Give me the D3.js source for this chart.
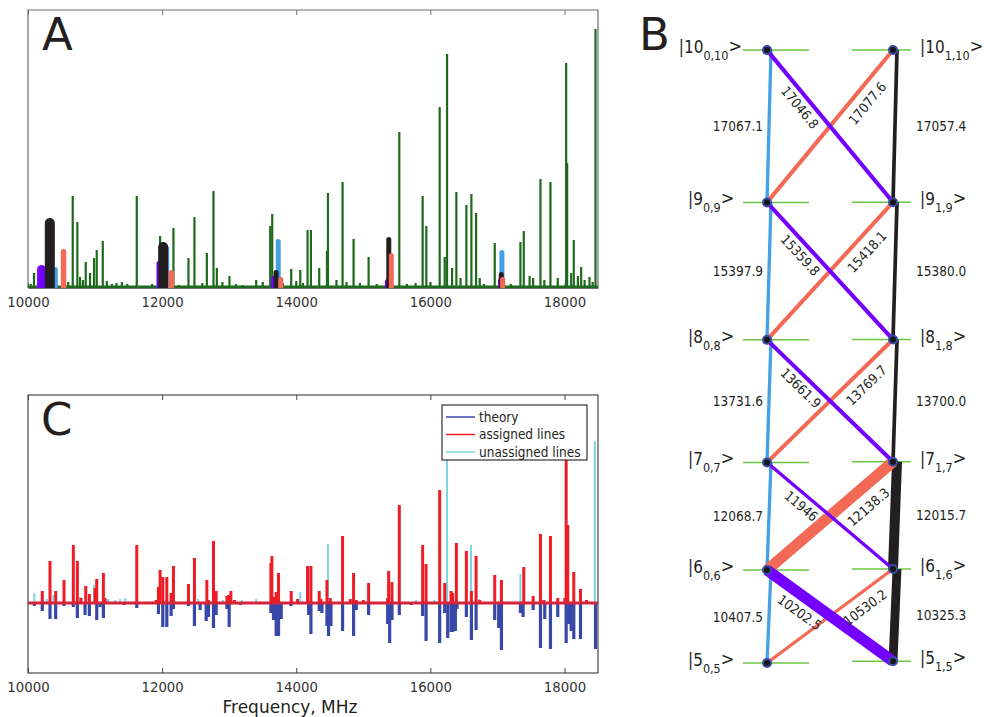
<!DOCTYPE html>
<html>
<head>
<meta charset="utf-8">
<script src="https://cdn.jsdelivr.net/npm/d3@7"></script>
<style>
  body { margin: 0; background: #fff; }
  text { font-family: "DejaVu Sans", sans-serif; }
</style>
</head>
<body>
<div id="chart"></div>
<script>

// ---------- data ----------
// rotational transitions, upper level J = 6..10
const upperJ = [6, 7, 8, 9, 10];
const fBlue   = ["10407.5", "12068.7", "13731.6", "15397.9", "17067.1"]; // J(0,J) -> (J-1)(0,J-1)
const fBlack  = ["10325.3", "12015.7", "13700.0", "15380.0", "17057.4"]; // J(1,J) -> (J-1)(1,J-1)
const fPurple = ["10202.5", "11946", "13661.9", "15359.8", "17046.8"];   // J(0,J) -> (J-1)(1,J-1)
const fOrange = ["10530.2", "12138.3", "13769.7", "15418.1", "17077.6"]; // J(1,J) -> (J-1)(0,J-1)

// line strength in the energy diagram (relative)
const wBlue   = [0.9, 0.9, 0.9, 0.9, 0.9];
const wBlack  = [2.4, 2.7, 1.0, 1.0, 1.0];
const wPurple = [3.0, 0.9, 1.1, 1.1, 1.1];
const wOrange = [0.9, 3.0, 1.1, 1.1, 1.1];

// intensities of the assigned transitions in panel A (arb. units)
const iBlue   = [21, 42, 49, 8, 38];
const iBlack  = [70, 46, 18, 51, 16];
const iPurple = [23, 27, 12, 9, 10];
const iOrange = [39, 18, 11, 35, 11];
// bar weight in panel A (relative)
const aBlue   = [1, 1, 1, 1, 1];
const aBlack  = [2, 2, 1, 1, 1];
const aPurple = [1.8, 0.8, 1, 1, 1];
const aOrange = [1.1, 1.1, 1, 1, 1];

// panel A: measured spectrum (MHz, arb. intensity)
const specFreq = [10090, 10667, 10736, 10776, 10861, 10925, 10985, 11025, 11115, 11175, 11622, 11970,
  12169, 12393, 12482, 12667, 12766, 12816, 13004, 13403, 13612, 13642, 13925, 14060, 14169, 14219,
  14343, 14458, 14473, 14691, 14855, 15079, 15537, 15885, 15940, 16139, 16214, 16249, 16324, 16388,
  16537, 16612, 16682, 16736, 16960, 17343, 17393, 17533, 17642, 17791, 18025, 18040, 18139, 18249,
  18373, 18463];
const specInt = [15, 92, 66, 11, 26, 15, 30, 38, 47, 7, 92, 52,
  60, 30, 71, 35, 97, 20, 12, 8, 62, 74, 19, 18, 58, 58,
  20, 37, 95, 106, 49, 31, 156, 92, 62, 181, 31, 234, 20, 96,
  83, 94, 75, 10, 45, 46, 57, 10, 109, 106, 225, 125, 48, 21,
  11, 259];
const weakFreq = [10040, 10150, 10600, 10820, 11250, 11320, 11400, 11480, 11850, 12250, 12600, 12900,
  13100, 13200, 13500, 13800, 14000, 14100, 14600, 14750, 14950, 15200, 15650, 15780, 16000, 16450,
  16800, 17100, 17200, 17480, 17700, 17900, 18100, 18200, 18300, 18420];
const weakInt = [4, 5, 6, 8, 4, 5, 6, 4, 4, 3, 5, 6,
  4, 3, 6, 5, 7, 5, 8, 6, 5, 4, 4, 5, 6, 10,
  4, 6, 4, 12, 8, 10, 15, 12, 8, 6];

// panel C
const assignedFreq = [10213, 10328, 10413, 10537, 10676, 10736, 10791, 10861, 10915, 11000, 11025, 11124,
  11149, 11622, 11910, 11945, 11970, 12010, 12070, 12134, 12169, 12393, 12482, 12667, 12691, 12766,
  12806, 12966, 12990, 13025, 13079, 13622, 13637, 13672, 13701, 13736, 13925, 14019, 14169, 14219,
  14343, 14368, 14458, 14507, 14691, 14806, 14855, 14895, 15000, 15079, 15363, 15378, 15428, 15537,
  15885, 15936, 16139, 16214, 16309, 16333, 16388, 16537, 16612, 16682, 16736, 16960, 17060, 17393,
  17533, 17642, 17692, 17791, 17900, 18005, 18025, 18049, 18139, 18239, 18328];
const assignedInt = [12, 42, 12, 23, 58, 42, 5, 17, 9, 15, 24, 30,
  5, 58, 3, 16, 33, 26, 26, 10, 37, 19, 45, 23, 3, 62,
  12, 7, 8, 12, 3, 40, 47, 6, 11, 30, 12, 4, 37, 37,
  12, 4, 23, 5, 67, 4, 30, 3, 3, 20, 5, 32, 21, 98,
  58, 39, 113, 20, 12, 10, 60, 52, 12, 47, 3, 28, 23, 36,
  7, 69, 3, 67, 5, 5, 145, 78, 31, 14, 3];
const unassignedFreq = [10094, 10279, 10378, 10776, 10985, 11194, 11298, 11373, 11448, 12537, 12906, 13189,
  13403, 14060, 14473, 15786, 16060, 16249, 16607, 16731, 17343, 17701, 18328, 18452];
const unassignedInt = [10, 4, 8, 6, 18, 4, 3, 4, 5, 4, 3, 3,
  4, 11, 59, 3, 3, 160, 58, 4, 29, 3, 3, 162];
const theoryFreq = [10094, 10213, 10328, 10413, 10537, 10676, 10736, 10851, 10915, 11025, 11075, 11124,
  11433, 11622, 11945, 12010, 12070, 12134, 12169, 12393, 12482, 12567, 12657, 12691, 12766, 12806,
  12966, 13000, 13164, 13622, 13661, 13701, 13736, 13776, 13920, 14184, 14219, 14343, 14383, 14458,
  14482, 14518, 14691, 14855, 14895, 15079, 15363, 15393, 15428, 15537, 15712, 15885, 15936, 16139,
  16214, 16259, 16309, 16333, 16373, 16398, 16537, 16612, 16682, 16960, 17019, 17060, 17343, 17383,
  17533, 17642, 17706, 17791, 17900, 18025, 18064, 18100, 18139, 18239, 18463];
const theoryInt = [3, 8, 16, 16, 3, 4, 15, 12, 13, 17, 4, 15,
  2, 5, 11, 24, 24, 13, 6, 3, 23, 7, 18, 14, 25, 12,
  6, 24, 2, 10, 17, 33, 33, 16, 3, 12, 31, 8, 10, 23,
  33, 23, 28, 33, 7, 12, 21, 40, 17, 12, 2, 13, 38, 40,
  10, 35, 29, 29, 28, 6, 14, 37, 27, 17, 25, 47, 10, 14,
  7, 45, 16, 46, 14, 40, 21, 28, 36, 36, 46];

const freqTicks = [10000, 12000, 14000, 16000, 18000];
const legendNames = ["theory", "assigned lines", "unassigned lines"];

// ---------- drawing ----------
const W = 984, H = 717;
const svg = d3.select("#chart").append("svg").attr("width", W).attr("height", H);

const colBlue = "#45a0e6", colBlack = "#231f20", colPurple = "#7300ff", colOrange = "#f26a55";
const colSpec = "#1d6a1d", colRed = "#ee1c25", colTheory = "#3848a8", colCyan = "#7dd3df";

// ===== Panel A =====
const xA = d3.scaleLinear().domain([10000, 18500]).range([28, 598]);
const yA = d3.scaleLinear().domain([0, 278]).range([288, 10]);

const gA = svg.append("g");
gA.append("clipPath").attr("id", "clipA").append("rect")
    .attr("x", 28).attr("y", 10).attr("width", 570).attr("height", 278);

// frame
gA.append("path")
    .attr("d", `M28,288V10H598V288`)
    .attr("fill", "none").attr("stroke", "#6e6e6e").attr("stroke-width", 1.2);
gA.append("g").attr("transform", "translate(0,10)")
    .call(d3.axisTop(xA).tickValues(freqTicks).tickSize(-5).tickSizeOuter(0).tickFormat(""))
    .call(g => g.select(".domain").remove())
    .call(g => g.selectAll("line").attr("stroke", "#6e6e6e"));
gA.append("g").attr("transform", "translate(0,288)")
    .call(d3.axisBottom(xA).tickValues(freqTicks).tickSize(-5).tickSizeOuter(0).tickPadding(10).tickFormat(d3.format("d")))
    .call(g => g.select(".domain").attr("stroke", "#6e6e6e"))
    .call(g => g.selectAll("line").attr("stroke", "#6e6e6e"))
    .call(g => g.selectAll("text").style("font-size", "13.3px").attr("fill", "#333"));

const plotA = gA.append("g").attr("clip-path", "url(#clipA)");
const sticks = specFreq.map((f, i) => [f, specInt[i]]).concat(weakFreq.map((f, i) => [f, weakInt[i]]));
plotA.selectAll(".stick").data(sticks).enter().append("line")
    .attr("x1", d => xA(d[0])).attr("x2", d => xA(d[0]))
    .attr("y1", yA(0)).attr("y2", d => yA(d[1]))
    .attr("stroke", colSpec).attr("stroke-width", 2.2);
plotA.append("line")
    .attr("x1", 28).attr("x2", 598).attr("y1", yA(0) - 1).attr("y2", yA(0) - 1)
    .attr("stroke", colSpec).attr("stroke-width", 3);

// assigned transitions as rounded bars
const barSeries = [
  { f: fBlue,   v: iBlue,   w: aBlue,   c: colBlue },
  { f: fPurple, v: iPurple, w: aPurple, c: colPurple },
  { f: fBlack,  v: iBlack,  w: aBlack,  c: colBlack },
  { f: fOrange, v: iOrange, w: aOrange, c: colOrange }
];
const barW = d3.scaleLinear().domain([0, 1]).range([0, 5]);
barSeries.forEach(s => {
  plotA.selectAll(null).data(s.f).enter().append("line")
      .attr("x1", d => xA(+d)).attr("x2", d => xA(+d))
      .attr("y1", yA(0) + 8)
      .attr("y2", (d, i) => yA(s.v[i]) + barW(s.w[i]) / 2)
      .attr("stroke", s.c).attr("stroke-width", (d, i) => barW(s.w[i]))
      .attr("stroke-linecap", "round");
});

svg.append("text").attr("x", 42).attr("y", 50).style("font-size", "45px").attr("fill", "#231f20").text("A");

// ===== Panel C =====
const xC = d3.scaleLinear().domain([10000, 18500]).range([28, 598]);
const yC = d3.scaleLinear().domain([-70, 208]).range([673, 395]);
const gC = svg.append("g");
gC.append("clipPath").attr("id", "clipC").append("rect")
    .attr("x", 28).attr("y", 395).attr("width", 570).attr("height", 278);
const plotC = gC.append("g").attr("clip-path", "url(#clipC)");

function stickLines(freqs, vals, sign, color, width) {
  plotC.selectAll(null).data(freqs).enter().append("line")
      .attr("x1", d => xC(d)).attr("x2", d => xC(d))
      .attr("y1", yC(0)).attr("y2", (d, i) => yC(sign * vals[i]))
      .attr("stroke", color).attr("stroke-width", width);
}
stickLines(theoryFreq, theoryInt, -1, colTheory, 3.2);
stickLines(unassignedFreq, unassignedInt, 1, colCyan, 2);
stickLines(assignedFreq, assignedInt, 1, colRed, 3);
plotC.append("line")
    .attr("x1", 28).attr("x2", 598).attr("y1", yC(0)).attr("y2", yC(0))
    .attr("stroke", "#d4243a").attr("stroke-width", 3);

gC.append("rect").attr("x", 28).attr("y", 395).attr("width", 570).attr("height", 278)
    .attr("fill", "none").attr("stroke", "#4a4a4a").attr("stroke-width", 1.2);
gC.append("g").attr("transform", "translate(0,395)")
    .call(d3.axisTop(xC).tickValues(freqTicks).tickSize(-5).tickSizeOuter(0).tickFormat(""))
    .call(g => g.select(".domain").remove())
    .call(g => g.selectAll("line").attr("stroke", "#4a4a4a"));
gC.append("g").attr("transform", "translate(0,673)")
    .call(d3.axisBottom(xC).tickValues(freqTicks).tickSize(-5).tickSizeOuter(0).tickPadding(10).tickFormat(d3.format("d")))
    .call(g => g.select(".domain").remove())
    .call(g => g.selectAll("line").attr("stroke", "#4a4a4a"))
    .call(g => g.selectAll("text").style("font-size", "13.3px").attr("fill", "#333"));

svg.append("text").attr("x", 290).attr("y", 713).attr("text-anchor", "middle")
    .style("font-size", "17px").attr("fill", "#231f20").text("Frequency, MHz");
svg.append("text").attr("x", 41).attr("y", 435).style("font-size", "45px").attr("fill", "#231f20").text("C");

// legend
const lg = svg.append("g").attr("transform", "translate(442,405)");
lg.append("rect").attr("width", 145).attr("height", 55)
    .attr("fill", "#fff").attr("stroke", "#333").attr("stroke-width", 1.2);
const legendColors = [colTheory, colRed, colCyan];
legendNames.forEach((name, i) => {
  const yy = 12 + i * 17.5;
  lg.append("line").attr("x1", 4).attr("x2", 33).attr("y1", yy).attr("y2", yy)
      .attr("stroke", legendColors[i]).attr("stroke-width", 1.5);
  lg.append("text").attr("x", 37).attr("y", yy + 4.5)
      .style("font-family", "'DejaVu Sans Condensed', 'DejaVu Sans', sans-serif")
      .style("font-size", "13.5px").attr("fill", "#231f20").text(name);
});

// ===== Panel B : energy level diagram =====
const levelJ = [5].concat(upperJ);
const E0 = [0];
fBlue.forEach((f, i) => E0.push(E0[i] + +f));
const E1 = [E0[1] - +fPurple[0]];
fBlack.forEach((f, i) => E1.push(E1[i] + +f));

const xB = d3.scalePoint().domain([0, 1]).range([767, 893]);
const yB = d3.scaleLinear().domain([0, d3.max(E1)]).range([663, 50]);
const lw = d3.scaleLinear().domain([0, 1]).range([0, 3.7]);
const gB = svg.append("g");
const fontB = "'DejaVu Sans Condensed', 'DejaVu Sans', sans-serif";

// level lines
levelJ.forEach((J, i) => {
  gB.append("line").attr("x1", xB(0) - 24).attr("x2", xB(0) + 42)
      .attr("y1", yB(E0[i])).attr("y2", yB(E0[i]))
      .attr("stroke", "#6cc644").attr("stroke-width", 1.5);
  gB.append("line").attr("x1", xB(1) - 41).attr("x2", xB(1) + 18)
      .attr("y1", yB(E1[i])).attr("y2", yB(E1[i]))
      .attr("stroke", "#6cc644").attr("stroke-width", 1.5);
});

// a-type (vertical) transitions
function vertical(k, E, freqs, weights, color) {
  freqs.forEach((f, i) => {
    gB.append("line")
        .attr("x1", xB(k) + 4).attr("y1", yB(E[i + 1]))
        .attr("x2", xB(k)).attr("y2", yB(E[i]))
        .attr("stroke", color).attr("stroke-width", lw(weights[i]));
  });
}
vertical(0, E0, fBlue, wBlue, colBlue);
vertical(1, E1, fBlack, wBlack, colBlack);

// b-type (crossing) transitions
function cross(fromK, freqs, weights, color, t, off) {
  freqs.forEach((f, i) => {
    // left end is always Ka=0 column
    const xl = xB(0), xr = xB(1);
    const yl = fromK === 0 ? yB(E0[i + 1]) : yB(E0[i]);
    const yr = fromK === 0 ? yB(E1[i]) : yB(E1[i + 1]);
    const w = lw(weights[i]);
    gB.append("line").attr("x1", xl).attr("y1", yl).attr("x2", xr).attr("y2", yr)
        .attr("stroke", color).attr("stroke-width", w);
    const ang = Math.atan2(yr - yl, xr - xl) * 180 / Math.PI;
    const px = xl + t * (xr - xl), py = yl + t * (yr - yl);
    labelsB.push({ px, py, ang, off: off + (w > 6 ? 4 : 0), text: f });
  });
}
const labelsB = [];
cross(1, fOrange, wOrange, colOrange, 0.71, 14);
cross(0, fPurple, wPurple, colPurple, 0.33, 11);

// nodes
levelJ.forEach((J, i) => {
  [[0, E0[i]], [1, E1[i]]].forEach(([k, e]) => {
    gB.append("circle").attr("cx", xB(k)).attr("cy", yB(e)).attr("r", 4)
        .attr("fill", "#161616").attr("stroke", "#3a4ca8").attr("stroke-width", 2);
  });
});

// rotated labels of crossing transitions
labelsB.forEach(d => {
  gB.append("g").attr("transform", `translate(${d.px},${d.py}) rotate(${d.ang})`)
    .append("text").attr("x", 0).attr("y", d.off)
      .attr("text-anchor", "middle").attr("dominant-baseline", "central")
      .style("font-family", fontB).style("font-size", "13.5px").attr("fill", "#231f20")
      .text(d.text);
});

// vertical transition labels
fBlue.forEach((f, i) => {
  gB.append("text").attr("x", 763).attr("y", (yB(E0[i]) + yB(E0[i + 1])) / 2)
      .attr("text-anchor", "end").attr("dominant-baseline", "central")
      .style("font-family", fontB).style("font-size", "13.5px").attr("fill", "#231f20").text(f);
});
fBlack.forEach((f, i) => {
  gB.append("text").attr("x", 916).attr("y", (yB(E1[i]) + yB(E1[i + 1])) / 2)
      .attr("dominant-baseline", "central")
      .style("font-family", fontB).style("font-size", "13.5px").attr("fill", "#231f20").text(f);
});

// level labels |J_{K,J}>
function levelLabel(J, K, x, y, maxRight) {
  const t = gB.append("text").attr("x", x).attr("y", y + 3)
      .style("font-family", fontB).style("font-size", "17px").attr("fill", "#231f20");
  t.append("tspan").text("|" + J);
  t.append("tspan").attr("dy", 7).style("font-size", "12.5px").text(K + "," + J);
  t.append("tspan").attr("dy", -8).style("font-size", "18px").text(">");
  if (maxRight) {
    const b = t.node().getBBox();
    if (b.x + b.width > maxRight) t.attr("x", maxRight - b.width);
  }
}
levelJ.forEach((J, i) => {
  levelLabel(J, 0, 688, yB(E0[i]), 742);
  levelLabel(J, 1, 920, yB(E1[i]), null);
});

svg.append("text").attr("x", 639).attr("y", 50).style("font-size", "45px").attr("fill", "#231f20").text("B");

</script>
</body>
</html>
